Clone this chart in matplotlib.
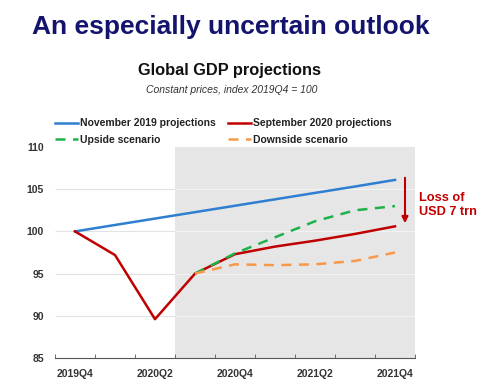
import matplotlib
matplotlib.use("Agg")
import matplotlib.pyplot as plt

plt.rcParams['font.family'] = ['Liberation Sans', 'DejaVu Sans']

quarters = ['2019Q4', '2020Q1', '2020Q2', '2020Q3', '2020Q4',
            '2021Q1', '2021Q2', '2021Q3', '2021Q4']
nov2019 = [100.0, 100.76, 101.52, 102.28, 103.04, 103.8, 104.56, 105.32, 106.1]
sep2020 = [100.0, 97.2, 89.6, 95.0, 97.3, 98.2, 98.9, 99.7, 100.6]
upside = [None, None, None, 95.0, 97.4, 99.3, 101.2, 102.5, 103.0]
downside = [None, None, None, 95.0, 96.1, 96.0, 96.1, 96.5, 97.5]
yticks = [85, 90, 95, 100, 105, 110]


def main():
    W, H = 500, 385
    fig = plt.figure(figsize=(W / 100, H / 100), dpi=100)
    ax = fig.add_axes([55 / W, (H - 358) / H, 360 / W, 211 / H])

    x = list(range(len(quarters)))
    xu = [i for i, v in zip(x, upside) if v is not None]
    vu = [v for v in upside if v is not None]
    xd = [i for i, v in zip(x, downside) if v is not None]
    vd = [v for v in downside if v is not None]

    ax.axvspan(2.5, 8.5, color='#e6e6e6', zorder=0, lw=0)
    # gridlines: light gray on white, lighter inside the shaded projection zone
    ax.hlines(yticks[1:-1], -0.5, 2.5, color='#e2e2e2', lw=0.8, zorder=0.5)
    ax.hlines(yticks[1:-1], 2.5, 8.5, color='#f3f3f3', lw=0.8, zorder=0.5)

    l1, = ax.plot(x, nov2019, color='#2e7fd0', lw=1.8, zorder=3)
    l2, = ax.plot(x, sep2020, color='#c00000', lw=1.8, zorder=3)
    l3, = ax.plot(xu, vu, color='#1db34a', lw=1.8, ls=(0, (4, 3)), zorder=4)
    l4, = ax.plot(xd, vd, color='#f7984a', lw=1.8, ls=(0, (4, 3)), zorder=4)

    ax.set_xlim(-0.5, 8.5)
    ax.set_ylim(85, 110)
    ax.set_yticks(yticks)
    ax.set_yticklabels([str(v) for v in yticks], fontsize=7.5, fontweight='bold', color='#333333')
    ax.set_xticks(x[::2])
    ax.set_xticklabels(quarters[::2], fontsize=7.5, fontweight='bold', color='#333333')
    ax.set_xticks([i + 0.5 for i in range(-1, 9)], minor=True)
    ax.tick_params(axis='x', which='major', length=0, pad=8)
    ax.tick_params(axis='x', which='minor', length=3, direction='in', color='#555555')
    ax.tick_params(axis='y', length=0, pad=8)
    for s in ['top', 'right', 'left']:
        ax.spines[s].set_visible(False)
    ax.spines['bottom'].set_color('#555555')

    # ncol=2 fills by column, so order handles to get the reference rows
    leg = fig.legend([l1, l3, l2, l4],
                     ['November 2019 projections', 'Upside scenario',
                      'September 2020 projections', 'Downside scenario'],
                     loc='upper left', bbox_to_anchor=(46 / W, 1 - 109 / H), ncol=2,
                     frameon=False, prop={'size': 7.5, 'weight': 'bold'},
                     handlelength=2.2, handletextpad=0.15, columnspacing=1.2,
                     labelspacing=0.6)
    for t in leg.get_texts():
        t.set_color('#222222')

    # arrow and annotation
    fig.patches.append(matplotlib.patches.FancyArrowPatch(
        (405 / W, 1 - 175 / H), (405 / W, 1 - 226 / H), transform=fig.transFigure,
        arrowstyle='-|>', mutation_scale=9, color='#c00000', lw=1.5))
    fig.text(419 / W, 1 - 205 / H, 'Loss of\nUSD 7 trn', color='#c00000',
             fontsize=9.2, fontweight='bold', va='center', ha='left', linespacing=1.15)

    fig.text(32 / W, 1 - 27 / H, 'An especially uncertain outlook', color='#14146e',
             fontsize=19, fontweight='bold', va='center', ha='left')
    fig.text(229 / W, 1 - 71 / H, 'Global GDP projections', color='#111111',
             fontsize=11.8, fontweight='bold', va='center', ha='center')
    fig.text(232 / W, 1 - 90 / H, 'Constant prices, index 2019Q4 = 100', color='#333333',
             fontsize=7.5, style='italic', va='center', ha='center')

    fig.savefig('out.png', dpi=100)


if __name__ == "__main__":
    main()
